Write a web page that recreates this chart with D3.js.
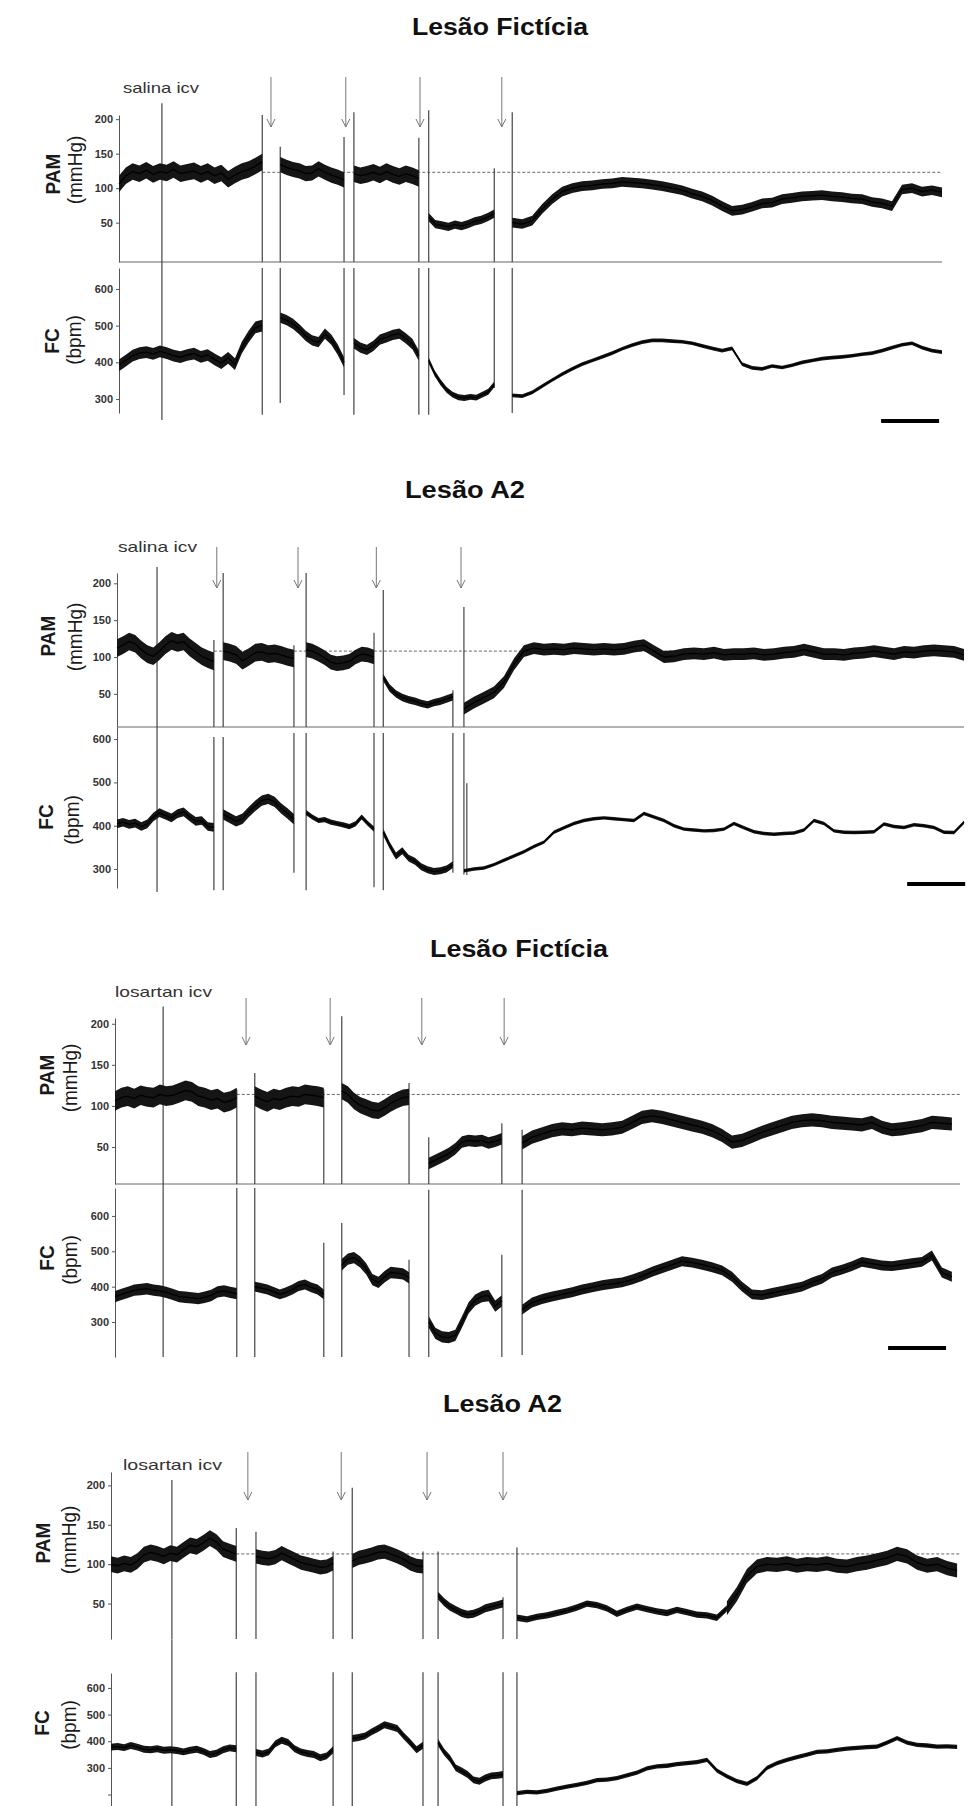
<!DOCTYPE html>
<html>
<head>
<meta charset="utf-8">
<script src="https://cdn.jsdelivr.net/npm/d3@7"></script>
<style>
  body { margin: 0; background: #fff; }
  svg text { font-family: "Liberation Sans", Arial, sans-serif; }
</style>
</head>
<body>
<div id="chart"></div>
<script>
// ---- data (time in minutes, PAM in mmHg, FC in bpm) ----
const titles = ["Lesão Fictícia", "Lesão A2", "Lesão Fictícia", "Lesão A2"];
const drugLabels = ["salina icv", "salina icv", "losartan icv", "losartan icv"];
const pamTicks = [50, 100, 150, 200];
const fcTicks = [300, 400, 500, 600];
const fcMinorTick = [null, null, null, 200];   // unlabelled tick at the foot of the last FC axis
const controlPam = [123, 108, 114, 113];       // dashed reference level
const arrowTimes = [
  [26.2, 39.1, 51.9, 66.0],
  [17.2, 31.2, 44.7, 59.3],
  [22.6, 37.1, 52.9, 67.1],
  [23.6, 39.7, 54.5, 67.6]
];
const scaleBarStart = [131.4, 136.2, 133.3, null];
const scaleBarMinutes = 10;

// artefact lines: [t, pamFrom, pamTo, fcFrom, fcTo]
const p1Markers = [
  [7.4, -7, 223, 243, 674], [24.7, -7, 206, 257, 657], [27.8, -7, 160, 289, 657],
  [38.8, -7, 174, 311, 657], [40.5, -7, 210, 257, 657], [51.7, -7, 173, 257, 657],
  [53.4, -7, 213, 257, 657], [64.7, -7, 129, 330, 657], [67.8, -7, 210, 262, 657]
];
const p2Markers = [
  [6.9, 5, 222, 247, 628], [16.7, 5, 123, 251, 605], [18.3, 5, 214, 251, 605],
  [30.5, 5, 116, 291, 614], [32.6, 5, 214, 251, 614], [44.3, 5, 133, 258, 614],
  [45.9, 5, 191, 251, 614], [57.9, 5, 55, 291, 614], [59.8, 5, 168, 287, 614],
  [60.3, null, null, 286, 498]
];
const p3Markers = [
  [8.3, 5, 221, 201, 691], [21.0, 5, 120, 201, 679], [24.1, 5, 140, 201, 679],
  [36.0, 5, 120, 201, 524], [39.1, 5, 209, 201, 580], [50.7, 5, 128, 201, 476],
  [54.1, 5, 62, 201, 674], [66.7, 5, 79, 201, 490], [70.2, 5, 71, 207, 674]
];
const p4Markers = [
  [10.5, 5, 207, 157, 783], [21.6, 5, 146, 157, 659], [25.0, 5, 141, 157, 659],
  [38.3, 5, 116, 157, 659], [41.6, 5, 197, 157, 659], [53.8, 5, 116, 157, 659],
  [56.4, 5, 116, 157, 659], [67.6, 5, 58, 157, 659], [70.0, 5, 121, 157, 659]
];

// trace segments: [tStart, tEnd, noise half-width, evenly sampled values]
const p1Pam = [
  [0, 24.7, 12, [106,118,124,121,126,120,124,122,127,121,123,125,120,124,118,122,113,119,124,127,132,138]],
  [27.8, 38.8, 11, [134,130,127,125,121,122,128,123,119,116,112]],
  [40.5, 51.7, 12, [121,118,120,123,119,124,120,117,121,118,114]],
  [53.4, 64.7, 6, [58,48,46,44,47,45,48,52,54,58,63]],
  [67.8, 141.9, 7, [50,48,53,70,84,95,100,103,104,106,107,109,108,107,105,103,100,97,92,88,82,74,67,69,73,78,79,84,86,88,89,90,88,87,85,84,80,78,74,98,100,95,97,94]]
];
const p1Fc = [
  [0, 24.7, 16, [392,405,418,425,428,423,430,425,418,414,420,424,415,420,408,398,412,395,440,470,495,500]],
  [27.8, 38.8, 14, [522,515,505,490,472,460,455,478,462,435,400]],
  [40.5, 51.7, 14, [452,440,434,445,462,468,475,478,465,450,418]],
  [53.4, 64.7, 8, [405,370,345,325,312,305,303,306,304,312,320,340]],
  [67.8, 141.9, 5, [310,308,318,335,352,368,382,395,405,415,425,437,447,455,460,460,458,456,452,445,438,432,438,395,385,382,390,386,392,400,405,410,413,415,418,422,425,432,440,448,452,440,432,428]]
];
const p2Pam = [
  [0, 16.7, 12, [112,116,121,118,110,104,101,108,116,122,119,121,113,107,101,97,94]],
  [18.3, 30.5, 12, [108,106,103,95,100,106,107,104,105,103,100,98]],
  [32.6, 44.3, 10, [110,108,104,99,93,91,92,94,100,104,103,100]],
  [45.9, 57.9, 5, [72,58,50,45,42,40,37,35,38,40,43,46]],
  [59.8, 146.0, 8, [30,38,45,52,66,90,108,112,110,111,110,112,111,110,111,110,111,114,116,108,100,101,104,105,104,106,103,104,104,105,103,104,106,107,110,107,104,104,103,105,106,108,106,104,107,106,108,109,108,107,103]]
];
const p2Fc = [
  [0, 16.7, 10, [404,408,403,406,398,404,420,430,424,418,428,432,420,410,412,398,396]],
  [18.3, 30.5, 12, [426,418,410,416,432,446,458,462,455,440,428,415]],
  [32.6, 44.3, 6, [430,420,412,414,408,405,402,398,404,420,405,392]],
  [45.9, 57.9, 8, [385,355,330,342,325,318,305,298,294,296,300,310]],
  [59.8, 146.0, 4, [296,300,302,310,320,330,340,352,362,385,395,405,412,416,418,416,414,412,428,420,412,400,392,390,388,389,392,405,395,386,382,380,382,383,390,412,405,388,385,384,385,386,404,398,396,402,400,396,385,384,408]]
];
const p3Pam = [
  [0, 21.0, 12, [106,110,112,109,113,111,110,114,112,113,116,119,117,112,110,107,109,104,106,110]],
  [24.1, 36.0, 12, [112,108,105,109,107,110,112,111,114,113,112,110]],
  [39.1, 50.7, 10, [118,114,106,101,98,95,94,98,103,107,110,111]],
  [54.1, 66.7, 7, [30,34,38,42,48,56,58,57,58,55,57,60]],
  [70.2, 144.3, 8, [55,62,66,70,72,71,73,72,71,72,74,80,86,88,86,83,80,77,74,70,64,56,58,63,68,72,76,80,82,83,82,80,79,78,77,80,74,71,72,74,76,80,79,78]]
];
const p3Fc = [
  [0, 21.0, 16, [372,378,384,390,392,394,390,388,384,378,372,370,368,366,370,375,385,388,384,380]],
  [24.1, 36.0, 14, [400,396,392,385,378,384,392,402,406,398,392,378]],
  [39.1, 50.7, 16, [462,478,482,470,450,420,412,428,440,438,436,425]],
  [54.1, 66.7, 16, [300,268,258,256,262,300,340,362,372,375,345,360]],
  [70.2, 144.3, 14, [335,355,365,372,378,384,392,398,404,408,412,420,430,442,452,462,472,468,462,455,446,428,400,378,376,382,388,394,400,412,422,440,448,458,470,465,460,458,462,466,470,488,440,428]]
];
const p4Pam = [
  [0, 21.6, 10, [100,98,101,99,104,112,115,113,110,114,112,118,124,122,127,133,128,119,116,113]],
  [25.0, 38.3, 9, [110,108,107,109,114,110,106,102,100,98,96,97,101]],
  [41.6, 53.8, 9, [104,108,110,112,115,116,113,110,106,101,98,97]],
  [56.4, 67.6, 5, [60,52,46,42,38,36,37,40,44,46,48,50]],
  [70.0, 106.2, 4, [32,30,33,35,38,41,45,50,48,44,37,42,46,43,40,38,42,39,36,35,32,44]],
  [106.2, 145.9, 9, [44,62,85,97,100,99,101,98,100,99,101,98,97,100,102,105,108,113,110,102,98,100,95,92]]
];
const p4Fc = [
  [0, 21.6, 13, [378,380,376,384,378,370,368,372,366,368,365,360,366,370,362,350,355,368,375,372]],
  [25.0, 38.3, 13, [358,352,360,390,404,395,372,360,354,350,338,345,368]],
  [41.6, 53.8, 13, [410,414,420,435,448,462,455,448,420,395,368,385]],
  [56.4, 67.6, 13, [395,360,335,300,288,275,255,250,262,270,272,275]],
  [70.0, 145.9, 8, [205,210,208,214,222,230,236,244,254,256,262,272,282,298,306,308,314,318,322,330,290,268,250,240,262,300,318,330,340,350,360,362,368,372,375,378,380,395,412,395,386,384,380,381,379]]
];

const markers = [p1Markers, p2Markers, p3Markers, p4Markers];
const pamSegs = [p1Pam, p2Pam, p3Pam, p4Pam];
const fcSegs = [p1Fc, p2Fc, p3Fc, p4Fc];

// ---- layout of the four recordings (pixels) ----
const layout = [
  { axisX: 119, right: 942, tMax: 141.9, pamDomain: [-7, 206], pamRange: [262, 115], fcDomain: [262, 657], fcRange: [413, 268],
    baseline: true, title: [412, 35, 176], drug: [123, 93, 76], arrowY: [77, 127], barY: 421,
    pamLab: [60, 174], mmHg: [82, 170], fcLab: [59, 341], bpm: [81, 340] },
  { axisX: 117, right: 964, tMax: 146.0, pamDomain: [5, 214], pamRange: [727, 573], fcDomain: [256, 628], fcRange: [888, 727],
    baseline: true, title: [405, 498, 120], drug: [118, 552, 79], arrowY: [547, 588], barY: 884,
    pamLab: [55, 636], mmHg: [82, 637], fcLab: [53, 817], bpm: [79, 820] },
  { axisX: 115, right: 960, tMax: 145.7, pamDomain: [5, 207], pamRange: [1184, 1018], fcDomain: [201, 679], fcRange: [1357, 1188],
    baseline: true, title: [430, 957, 178], drug: [115, 997, 97], arrowY: [998, 1045], barY: 1348,
    pamLab: [54, 1075], mmHg: [77, 1078], fcLab: [54, 1258], bpm: [77, 1260] },
  { axisX: 111, right: 960, tMax: 146.4, pamDomain: [5, 217], pamRange: [1639, 1472], fcDomain: [157, 656], fcRange: [1806, 1673],
    baseline: false, title: [443, 1412, 119], drug: [123, 1470, 99], arrowY: [1452, 1500], barY: null,
    pamLab: [50, 1543], mmHg: [76, 1540], fcLab: [49, 1723], bpm: [76, 1725] }
];

const svg = d3.select("#chart").append("svg")
  .attr("width", 971)
  .attr("height", 1806);

function sideLabel(g, pos, txt, bold) {
  g.append("text")
    .attr("transform", "translate(" + pos[0] + "," + pos[1] + ") scale(1.1,1) rotate(-90)")
    .attr("text-anchor", "middle")
    .style("font-size", "19px")
    .style("font-weight", bold ? "bold" : "normal")
    .style("fill", "#1a1a1a")
    .text(txt);
}

function drawSegs(g, segs, x, y) {
  for (const s of segs) {
    const t0 = s[0], t1 = s[1], w = s[2], vals = s[3];
    const pts = vals.map((v, j) => ({ t: t0 + j * (t1 - t0) / (vals.length - 1), v: v }));
    g.append("path")
      .datum(pts)
      .attr("d", d3.area().x(d => x(d.t)).y0(d => y(d.v - w)).y1(d => y(d.v + w)))
      .attr("fill", "#151515");
    g.append("path")
      .datum(pts)
      .attr("d", d3.line().x(d => x(d.t)).y(d => y(d.v)))
      .attr("fill", "none")
      .attr("stroke", "#000")
      .attr("stroke-width", 1.3);
  }
}

layout.forEach((L, i) => {
  const g = svg.append("g");
  const x = d3.scaleLinear().domain([0, L.tMax]).range([L.axisX, L.right]);
  const yP = d3.scaleLinear().domain(L.pamDomain).range(L.pamRange);
  const yF = d3.scaleLinear().domain(L.fcDomain).range(L.fcRange);

  g.append("text")
    .attr("x", L.title[0]).attr("y", L.title[1])
    .attr("textLength", L.title[2]).attr("lengthAdjust", "spacingAndGlyphs")
    .style("font-size", "23px").style("font-weight", "bold").style("fill", "#111")
    .text(titles[i]);

  g.append("text")
    .attr("x", L.drug[0]).attr("y", L.drug[1])
    .attr("textLength", L.drug[2]).attr("lengthAdjust", "spacingAndGlyphs")
    .style("font-size", "15px").style("fill", "#333")
    .text(drugLabels[i]);

  // axes
  const fcVals = fcMinorTick[i] === null ? fcTicks : [fcMinorTick[i]].concat(fcTicks);
  const axP = g.append("g").attr("transform", "translate(" + L.axisX + ",0)")
    .call(d3.axisLeft(yP).tickValues(pamTicks).tickSize(3).tickSizeOuter(0).tickPadding(3));
  const axF = g.append("g").attr("transform", "translate(" + L.axisX + ",0)")
    .call(d3.axisLeft(yF).tickValues(fcVals).tickSize(3).tickSizeOuter(0).tickPadding(3)
      .tickFormat(d => fcTicks.includes(d) ? d : ""));
  [axP, axF].forEach(a => {
    a.select(".domain").attr("stroke", "#555");
    a.selectAll(".tick line").attr("stroke", "#555");
    a.selectAll(".tick text").style("font-size", "11px").style("font-weight", "bold").style("fill", "#333");
  });

  sideLabel(g, L.pamLab, "PAM", true);
  sideLabel(g, L.mmHg, "(mmHg)", false);
  sideLabel(g, L.fcLab, "FC", true);
  sideLabel(g, L.bpm, "(bpm)", false);

  if (L.baseline) {
    g.append("line")
      .attr("x1", L.axisX).attr("x2", L.right)
      .attr("y1", L.pamRange[0]).attr("y2", L.pamRange[0])
      .attr("stroke", "#666").attr("stroke-width", 1);
  }

  // dashed control level, from the end of the first stretch
  g.append("line")
    .attr("x1", x(pamSegs[i][0][1])).attr("x2", L.right)
    .attr("y1", yP(controlPam[i])).attr("y2", yP(controlPam[i]))
    .attr("stroke", "#666").attr("stroke-width", 1).attr("stroke-dasharray", "3,2");

  // artefact / injection lines
  for (const m of markers[i]) {
    if (m[1] !== null) {
      g.append("line")
        .attr("x1", x(m[0])).attr("x2", x(m[0]))
        .attr("y1", yP(m[1])).attr("y2", yP(m[2]))
        .attr("stroke", "#444").attr("stroke-width", 1.2);
    }
    if (m[3] !== null) {
      g.append("line")
        .attr("x1", x(m[0])).attr("x2", x(m[0]))
        .attr("y1", yF(m[3])).attr("y2", yF(m[4]))
        .attr("stroke", "#444").attr("stroke-width", 1.2);
    }
  }

  drawSegs(g, pamSegs[i], x, yP);
  drawSegs(g, fcSegs[i], x, yF);

  // injection arrows
  for (const t of arrowTimes[i]) {
    const ax = x(t), top = L.arrowY[0], tip = L.arrowY[1];
    g.append("line")
      .attr("x1", ax).attr("x2", ax).attr("y1", top).attr("y2", tip)
      .attr("stroke", "#777").attr("stroke-width", 1);
    g.append("path")
      .attr("d", "M" + (ax - 4) + "," + (tip - 8) + "L" + ax + "," + tip + "L" + (ax + 4) + "," + (tip - 8))
      .attr("fill", "none").attr("stroke", "#777").attr("stroke-width", 1);
  }

  if (scaleBarStart[i] !== null) {
    g.append("line")
      .attr("x1", x(scaleBarStart[i])).attr("x2", x(scaleBarStart[i] + scaleBarMinutes))
      .attr("y1", L.barY).attr("y2", L.barY)
      .attr("stroke", "#000").attr("stroke-width", 4);
  }
});
</script>
</body>
</html>
